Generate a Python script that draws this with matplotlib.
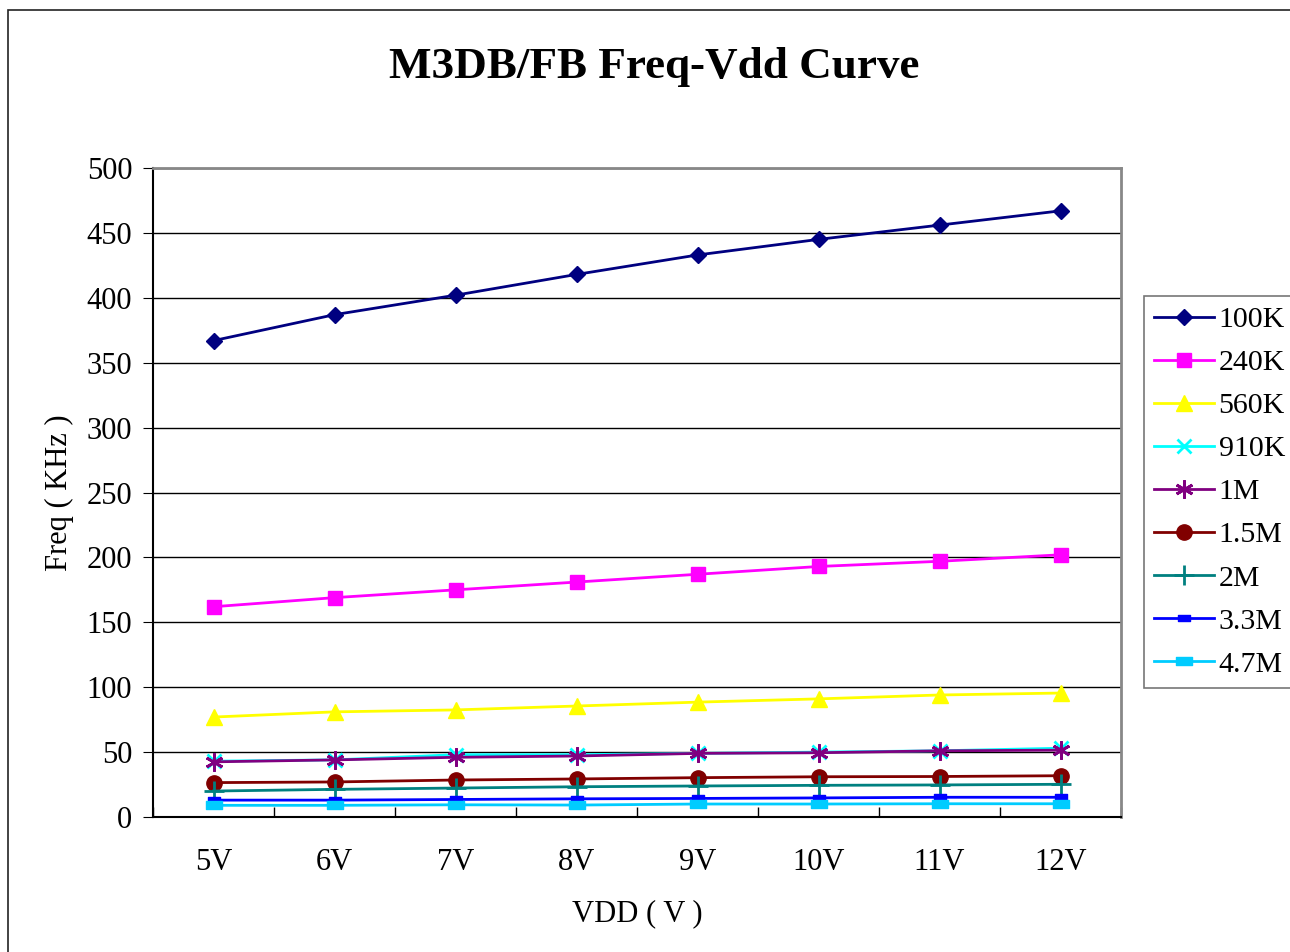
import matplotlib as mpl
mpl.use('Agg')
import matplotlib.pyplot as plt
from matplotlib.patches import Rectangle
from matplotlib.path import Path

vdd = ["5V", "6V", "7V", "8V", "9V", "10V", "11V", "12V"]

f_100k = [367, 387, 402, 418, 433, 445, 456, 467]
f_240k = [162, 169, 175, 181, 187, 193, 197, 202]
f_560k = [77, 81, 82.5, 85.5, 88.5, 91, 94, 95.5]
f_910k = [43, 44, 48, 48, 49, 50, 51, 53]
f_1m = [42.5, 44, 46, 47, 49, 49.5, 51, 51.5]
f_1m5 = [26.5, 27, 28.5, 29.3, 30.3, 31, 31.2, 31.8]
f_2m = [20, 21.3, 22.3, 23.3, 23.9, 24.4, 24.7, 25.2]
f_3m3 = [13, 13, 13.5, 14, 14.3, 14.7, 15.2, 15.2]
f_4m7 = [9, 9, 9.4, 9.2, 10, 10, 10.2, 10.2]

# small wide rectangle used by Excel for the last two series
rect = Path([(-1, -0.5), (1, -0.5), (1, 0.5), (-1, 0.5), (-1, -0.5)],
            [Path.MOVETO, Path.LINETO, Path.LINETO, Path.LINETO, Path.CLOSEPOLY])

series = [
    ("100K", f_100k, "#000080", "D", 8),
    ("240K", f_240k, "#FF00FF", "s", 10),
    ("560K", f_560k, "#FFFF00", "^", 11),
    ("910K", f_910k, "#00FFFF", "x", 10),
    ("1M", f_1m, "#800080", (6, 2, 0), 13),
    ("1.5M", f_1m5, "#800000", "o", 11),
    ("2M", f_2m, "#008080", "+", 14),
    ("3.3M", f_3m3, "#0000FF", rect, 8),
    ("4.7M", f_4m7, "#00CCFF", rect, 11),
]

plt.rcParams['font.family'] = ['Liberation Serif', 'DejaVu Serif']

fig = plt.figure(figsize=(12.9, 9.52), dpi=100)
fig.patches.append(Rectangle((8 / 1290, -0.1), 1.2, 1.1 - 10 / 952,
                             transform=fig.transFigure, fill=False,
                             edgecolor='#222222', linewidth=1.2))
ax = fig.add_axes([153 / 1290, 135 / 952, 968 / 1290, 649 / 952])

x = list(range(len(vdd)))
for name, vals, col, mk, ms in series:
    mew = 2 if mk in ("x", "+", (6, 2, 0)) else 1
    ax.plot(x, vals, color=col, marker=mk, markersize=ms, linewidth=2,
            markeredgewidth=mew, markeredgecolor=col, markerfacecolor=col,
            label=name)

ax.set_xlim(-0.5, len(vdd) - 0.5)
ax.set_ylim(0, 500)
ax.set_yticks(range(0, 501, 50))
ax.set_xticks(x)
ax.set_xticklabels(vdd)
ax.set_xticks([i - 0.5 for i in range(len(vdd) + 1)], minor=True)
ax.tick_params(axis='x', which='major', length=0, pad=22, labelsize=22)
ax.tick_params(axis='x', which='minor', length=7, direction='in', width=1)
ax.tick_params(axis='y', length=7, direction='out', labelsize=22, pad=8)
ax.yaxis.grid(True, color='black', linewidth=1)
ax.set_axisbelow(True)
for s in ('top', 'right'):
    ax.spines[s].set_color('#888888')
    ax.spines[s].set_linewidth(2)
for s in ('left', 'bottom'):
    ax.spines[s].set_color('black')
    ax.spines[s].set_linewidth(1.5)

ax.set_xlabel("VDD ( V )", fontsize=22, labelpad=16)
ax.set_ylabel("Freq ( KHz )", fontsize=22, labelpad=9)
fig.text(654 / 1290, 1 - 67 / 952, "M3DB/FB Freq-Vdd Curve", fontsize=32.5,
         fontweight='bold', ha='center', va='center')

leg = ax.legend(loc='upper left', bbox_to_anchor=(1144 / 1290, 1 - 296 / 952),
                bbox_transform=fig.transFigure, fontsize=21.5, frameon=True,
                fancybox=False, edgecolor='#555555', handlelength=2.0,
                labelspacing=0.54, borderpad=0.35, handletextpad=0.15,
                borderaxespad=0)
leg.get_frame().set_linewidth(1.2)

fig.savefig('out.png', dpi=100)
